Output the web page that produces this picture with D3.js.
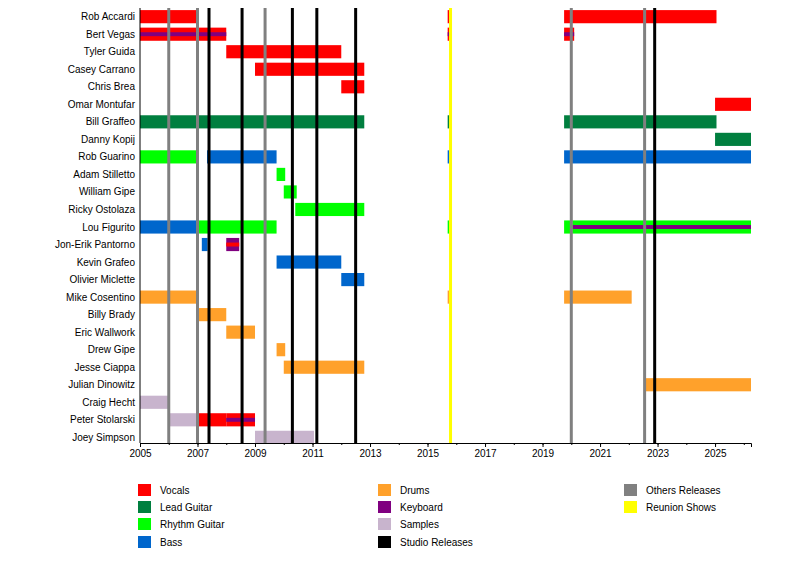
<!DOCTYPE html>
<html><head><meta charset="utf-8">
<script src="https://cdn.jsdelivr.net/npm/d3@7"></script>
<style>body{margin:0;background:#fff}text{font-family:"Liberation Sans",Arial,sans-serif;font-size:10px}</style>
</head><body><div id="chart"></div>
<script>
var members = ["Rob Accardi","Bert Vegas","Tyler Guida","Casey Carrano","Chris Brea","Omar Montufar","Bill Graffeo","Danny Kopij","Rob Guarino","Adam Stilletto","William Gipe","Ricky Ostolaza","Lou Figurito","Jon-Erik Pantorno","Kevin Grafeo","Olivier Miclette","Mike Cosentino","Billy Brady","Eric Wallwork","Drew Gipe","Jesse Ciappa","Julian Dinowitz","Craig Hecht","Peter Stolarski","Joey Simpson"];
var roleColors = {vocals:"#ff0000",lead:"#007f3f",rhythm:"#00ff00",bass:"#0066cc",drums:"#ffa12b",keys:"#800080",samples:"#c8b4cd"};
// [member, start, end, role, stripe role]
var spans = [
  ["Rob Accardi",2005,2007,"vocals"],["Rob Accardi",2015.7,2015.85,"vocals"],["Rob Accardi",2019.75,2025.05,"vocals"],
  ["Bert Vegas",2005,2008,"vocals","keys"],["Bert Vegas",2015.7,2015.85,"vocals","keys"],["Bert Vegas",2019.75,2020.1,"vocals","keys"],
  ["Tyler Guida",2008,2012,"vocals"],
  ["Casey Carrano",2009,2012.8,"vocals"],
  ["Chris Brea",2012,2012.8,"vocals"],
  ["Omar Montufar",2025,2026.25,"vocals"],
  ["Bill Graffeo",2005,2012.8,"lead"],["Bill Graffeo",2015.7,2015.85,"lead"],["Bill Graffeo",2019.75,2025.05,"lead"],
  ["Danny Kopij",2025,2026.25,"lead"],
  ["Rob Guarino",2005,2007,"rhythm"],["Rob Guarino",2007.33,2009.75,"bass"],["Rob Guarino",2015.7,2015.85,"bass"],["Rob Guarino",2019.75,2026.25,"bass"],
  ["Adam Stilletto",2009.75,2010.05,"rhythm"],
  ["William Gipe",2010,2010.45,"rhythm"],
  ["Ricky Ostolaza",2010.4,2012.8,"rhythm"],
  ["Lou Figurito",2005,2007,"bass"],["Lou Figurito",2007,2009.75,"rhythm"],["Lou Figurito",2015.7,2015.85,"rhythm"],["Lou Figurito",2019.75,2020.05,"rhythm"],["Lou Figurito",2020.05,2026.25,"rhythm","keys"],
  ["Jon-Erik Pantorno",2007.15,2007.35,"bass"],["Jon-Erik Pantorno",2008,2008.45,"keys","vocals"],
  ["Kevin Grafeo",2009.75,2012,"bass"],
  ["Olivier Miclette",2012,2012.8,"bass"],
  ["Mike Cosentino",2005,2007,"drums"],["Mike Cosentino",2015.7,2015.85,"drums"],["Mike Cosentino",2019.75,2022.1,"drums"],
  ["Billy Brady",2007,2008,"drums"],
  ["Eric Wallwork",2008,2009,"drums"],
  ["Drew Gipe",2009.75,2010.05,"drums"],
  ["Jesse Ciappa",2010,2012.8,"drums"],
  ["Julian Dinowitz",2022.55,2026.25,"drums"],
  ["Craig Hecht",2005,2006,"samples"],
  ["Peter Stolarski",2006,2007,"samples"],["Peter Stolarski",2007,2008,"vocals"],["Peter Stolarski",2008,2009,"vocals","keys"],
  ["Joey Simpson",2009,2011.05,"samples"]
];
var otherReleases = [2006, 2007, 2009.35, 2020, 2022.55];
var studioReleases = [2007.4, 2008.55, 2010.3, 2011.15, 2012.5, 2022.9];
var reunionShows = [2015.8];
var tickYears = [2005,2007,2009,2011,2013,2015,2017,2019,2021,2023,2025];
var legendItems = [["Vocals","#ff0000"],["Lead Guitar","#007f3f"],["Rhythm Guitar","#00ff00"],["Bass","#0066cc"],
  ["Drums","#ffa12b"],["Keyboard","#800080"],["Samples","#c8b4cd"],["Studio Releases","#000000"],
  ["Others Releases","#808080"],["Reunion Shows","#ffff00"]];

var svg = d3.select("#chart").append("svg").attr("width",800).attr("height",562);
var x = d3.scaleLinear().domain([2005,2026.25]).range([140,751]);
var y = d3.scaleBand().domain(members).range([8,446]).paddingInner(0.25).paddingOuter(0.12);

svg.selectAll(".bar").data(spans).enter().append("rect")
  .attr("x",d=>x(d[1])).attr("width",d=>x(d[2])-x(d[1]))
  .attr("y",d=>y(d[0])).attr("height",y.bandwidth())
  .attr("fill",d=>roleColors[d[3]]);
svg.selectAll(".stripe").data(spans.filter(d=>d[4])).enter().append("rect")
  .attr("x",d=>x(d[1])).attr("width",d=>x(d[2])-x(d[1]))
  .attr("y",d=>y(d[0])+y.bandwidth()*0.35).attr("height",y.bandwidth()*0.3)
  .attr("fill",d=>roleColors[d[4]]);

function vlines(data,color){
  svg.selectAll(null).data(data).enter().append("line")
    .attr("x1",d=>x(d)).attr("x2",d=>x(d)).attr("y1",8).attr("y2",443)
    .attr("stroke",color).attr("stroke-width",3);
}
vlines(otherReleases,"#808080");
vlines(studioReleases,"#000000");
vlines(reunionShows,"#ffff00");

svg.append("g").attr("transform","translate(0,443)")
  .call(d3.axisBottom(x).tickValues(tickYears).tickFormat(d3.format("d")).tickSize(4))
  .call(g=>g.select(".domain").attr("stroke","#000"))
  .call(g=>g.selectAll("text").attr("font-size",10).attr("fill","#000"));
svg.append("g").attr("transform","translate(0,443)")
  .call(d3.axisBottom(x).ticks(21).tickFormat("").tickSize(2))
  .call(g=>g.select(".domain").remove());
svg.append("line").attr("x1",140).attr("x2",140).attr("y1",8).attr("y2",443).attr("stroke","#000");

svg.selectAll(".lab").data(members).enter().append("text")
  .attr("x",135).attr("y",d=>y(d)+y.bandwidth()/2).attr("dy","0.35em")
  .attr("text-anchor","end").text(d=>d);

var colX = [138,378,624], rowY = [490,507,524,542];
var leg = svg.selectAll(".leg").data(legendItems).enter().append("g")
  .attr("transform",(d,i)=>{var c = i<4?0:i<8?1:2; var r = i<4?i:i<8?i-4:i-8; return "translate("+colX[c]+","+(rowY[r]-6)+")";});
leg.append("rect").attr("width",13).attr("height",12).attr("fill",d=>d[1]);
leg.append("text").attr("x",22).attr("y",6).attr("dy","0.35em").text(d=>d[0]);
</script></body></html>
